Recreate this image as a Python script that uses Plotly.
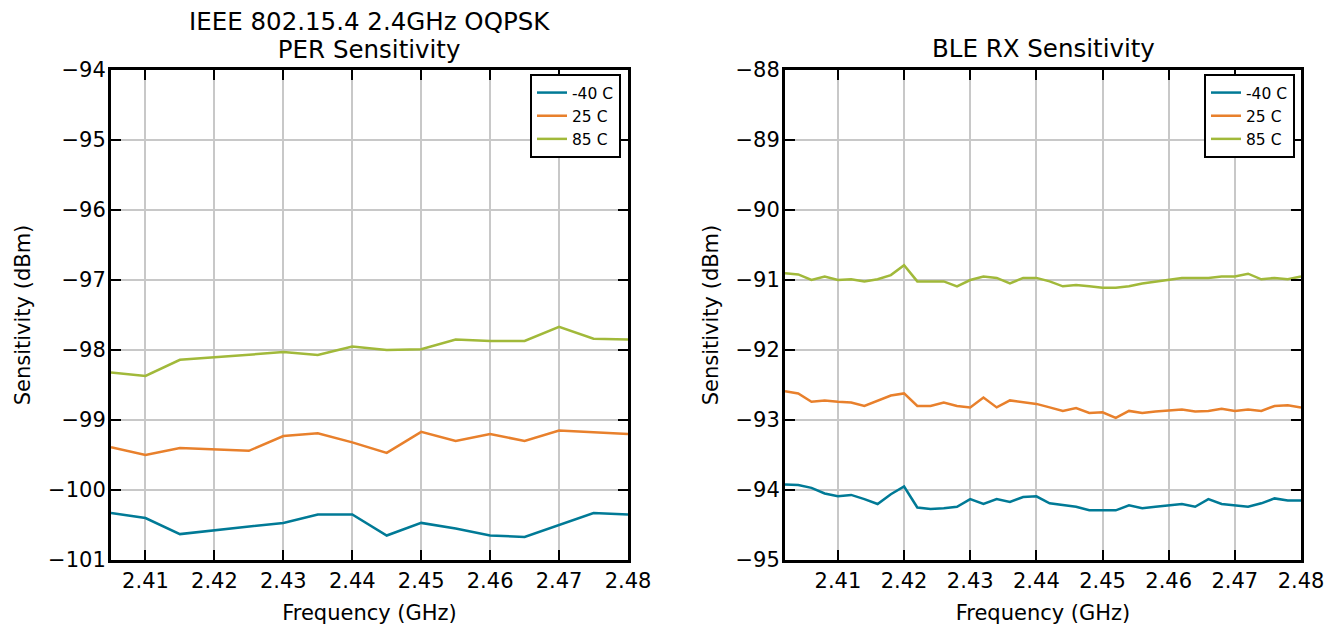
import plotly.graph_objects as go

# ---------------- data ----------------
per_freq_ghz = [2.405, 2.410, 2.415, 2.420, 2.425, 2.430, 2.435, 2.440,
                2.445, 2.450, 2.455, 2.460, 2.465, 2.470, 2.475, 2.480]
per_m40 = [-100.33, -100.40, -100.63, -100.58, -100.53, -100.47, -100.35, -100.35,
           -100.65, -100.47, -100.55, -100.65, -100.67, -100.50, -100.33, -100.35]
per_25 = [-99.39, -99.50, -99.40, -99.42, -99.44, -99.23, -99.19, -99.32,
          -99.47, -99.17, -99.30, -99.20, -99.30, -99.15, -99.17, -99.20]
per_85 = [-98.32, -98.37, -98.14, -98.10, -98.07, -98.03, -98.07, -97.95,
          -98.00, -97.99, -97.85, -97.87, -97.87, -97.67, -97.84, -97.85]

ble_freq_ghz = [2.402, 2.404, 2.406, 2.408, 2.410, 2.412, 2.414, 2.416, 2.418, 2.420,
                2.422, 2.424, 2.426, 2.428, 2.430, 2.432, 2.434, 2.436, 2.438, 2.440,
                2.442, 2.444, 2.446, 2.448, 2.450, 2.452, 2.454, 2.456, 2.458, 2.460,
                2.462, 2.464, 2.466, 2.468, 2.470, 2.472, 2.474, 2.476, 2.478, 2.480]
ble_m40 = [-93.92, -93.93, -93.97, -94.05, -94.09, -94.07, -94.13, -94.20, -94.06, -93.95,
           -94.25, -94.27, -94.26, -94.24, -94.13, -94.20, -94.13, -94.17, -94.10, -94.09,
           -94.19, -94.22, -94.24, -94.29, -94.29, -94.29, -94.22, -94.26, -94.24, -94.22,
           -94.20, -94.24, -94.13, -94.20, -94.22, -94.24, -94.19, -94.12, -94.15, -94.15]
ble_25 = [-92.59, -92.62, -92.74, -92.72, -92.74, -92.75, -92.80, -92.73, -92.65, -92.62,
          -92.80, -92.80, -92.75, -92.80, -92.82, -92.68, -92.82, -92.72, -92.75, -92.77,
          -92.82, -92.87, -92.83, -92.90, -92.89, -92.97, -92.87, -92.90, -92.88, -92.87,
          -92.85, -92.88, -92.87, -92.84, -92.87, -92.85, -92.87, -92.80, -92.79, -92.82]
ble_85 = [-90.905, -90.92, -91.00, -90.95, -91.00, -90.99, -91.02, -90.99, -90.93, -90.79,
          -91.02, -91.02, -91.02, -91.09, -91.00, -90.95, -90.97, -91.05, -90.97, -90.97,
          -91.02, -91.09, -91.07, -91.09, -91.11, -91.11, -91.09, -91.05, -91.02, -90.99,
          -90.97, -90.97, -90.97, -90.95, -90.95, -90.91, -90.99, -90.97, -90.99, -90.95]

series_names = ["-40 C", "25 C", "85 C"]
series_colors = ["#007a96", "#e8802c", "#a1b93a"]

x_ticks = [2.41, 2.42, 2.43, 2.44, 2.45, 2.46, 2.47, 2.48]
per_y_ticks = [-94, -95, -96, -97, -98, -99, -100, -101]
ble_y_ticks = [-88, -89, -90, -91, -92, -93, -94, -95]

per_title_lines = ["IEEE 802.15.4 2.4GHz OQPSK", "PER Sensitivity"]
ble_title = "BLE RX Sensitivity"

# ---------------- figure ----------------
# page body has an 8px margin; lay out in reference pixels, shifted by it
OFF = 8
W, H = 1338 - 2 * OFF, 633 - 2 * OFF

def px(x):
    return (x - OFF) / W

def py(y):
    return 1 - (y - OFF) / H

fig = go.Figure()

for name, col, ys in zip(series_names, series_colors, [per_m40, per_25, per_85]):
    fig.add_trace(go.Scatter(x=per_freq_ghz, y=ys, mode="lines", name=name,
                             line=dict(color=col, width=2.5),
                             xaxis="x", yaxis="y", legend="legend"))
for name, col, ys in zip(series_names, series_colors, [ble_m40, ble_25, ble_85]):
    fig.add_trace(go.Scatter(x=ble_freq_ghz, y=ys, mode="lines", name=name,
                             line=dict(color=col, width=2.5),
                             xaxis="x2", yaxis="y2", legend="legend2"))

font_family = "DejaVu Sans"
TICK_FS = 21
LABEL_FS = 21
TITLE_FS = 24.5
LEGEND_FS = 15.5
ydom = [py(560), py(70)]

def xax(dom, rng, anchor):
    return dict(domain=dom, range=rng, anchor=anchor, tickvals=x_ticks,
                ticktext=[f"{v:.2f}" for v in x_ticks], automargin=False,
                ticks="inside", ticklen=10, tickwidth=1.5, tickcolor="black",
                showline=True, linecolor="black", linewidth=3, mirror="ticks",
                showgrid=True, gridcolor="#c8c8c8", gridwidth=2, zeroline=False,
                tickfont=dict(size=TICK_FS, color="black", family=font_family),
                ticklabelstandoff=0,
                title=dict(text="Frequency (GHz)", standoff=14,
                           font=dict(size=LABEL_FS, color="black", family=font_family)))

def yax(rng, ticks, anchor):
    return dict(domain=ydom, range=rng, anchor=anchor, tickvals=ticks,
                automargin=False,
                ticks="inside", ticklen=10, tickwidth=1.5, tickcolor="black",
                showline=True, linecolor="black", linewidth=3, mirror="ticks",
                showgrid=True, gridcolor="#c8c8c8", gridwidth=2, zeroline=False,
                tickfont=dict(size=TICK_FS, color="black", family=font_family),
                ticklabelstandoff=-2,
                title=dict(text="Sensitivity (dBm)", standoff=12,
                           font=dict(size=LABEL_FS, color="black", family=font_family)))

legend_common = dict(bordercolor="black", borderwidth=2, bgcolor="white",
                     font=dict(size=LEGEND_FS, color="black", family=font_family),
                     xanchor="right", yanchor="top", itemwidth=30,
                     tracegroupgap=0)

# two-line title: base size sets the (tighter) line spacing, spans set glyph size
span = "<span style='font-size:%gpx'>%s</span>"
per_title = "<br>".join(span % (TITLE_FS, t) for t in per_title_lines)

fig.update_layout(
    width=W, height=H,
    margin=dict(l=0, r=0, t=0, b=0, autoexpand=False),
    paper_bgcolor="white", plot_bgcolor="white",
    font=dict(family=font_family, color="black"),
    xaxis=xax([px(111), px(628)], [2.405, 2.48], "y"),
    yaxis=yax([-101, -94], per_y_ticks, "x"),
    xaxis2=xax([px(785), px(1301)], [2.402, 2.48], "y2"),
    yaxis2=yax([-95, -88], ble_y_ticks, "x2"),
    legend=dict(x=px(621), y=py(74), **legend_common),
    legend2=dict(x=px(1295), y=py(74), **legend_common),
    annotations=[
        dict(text=per_title, x=px(369), y=py(35),
             xref="paper", yref="paper", showarrow=False,
             xanchor="center", yanchor="middle", align="center",
             font=dict(size=21.5, color="black", family=font_family)),
        dict(text=ble_title, x=px(1043), y=py(49),
             xref="paper", yref="paper", showarrow=False,
             xanchor="center", yanchor="middle",
             font=dict(size=TITLE_FS, color="black", family=font_family)),
    ],
)

fig.write_html("out.html")
